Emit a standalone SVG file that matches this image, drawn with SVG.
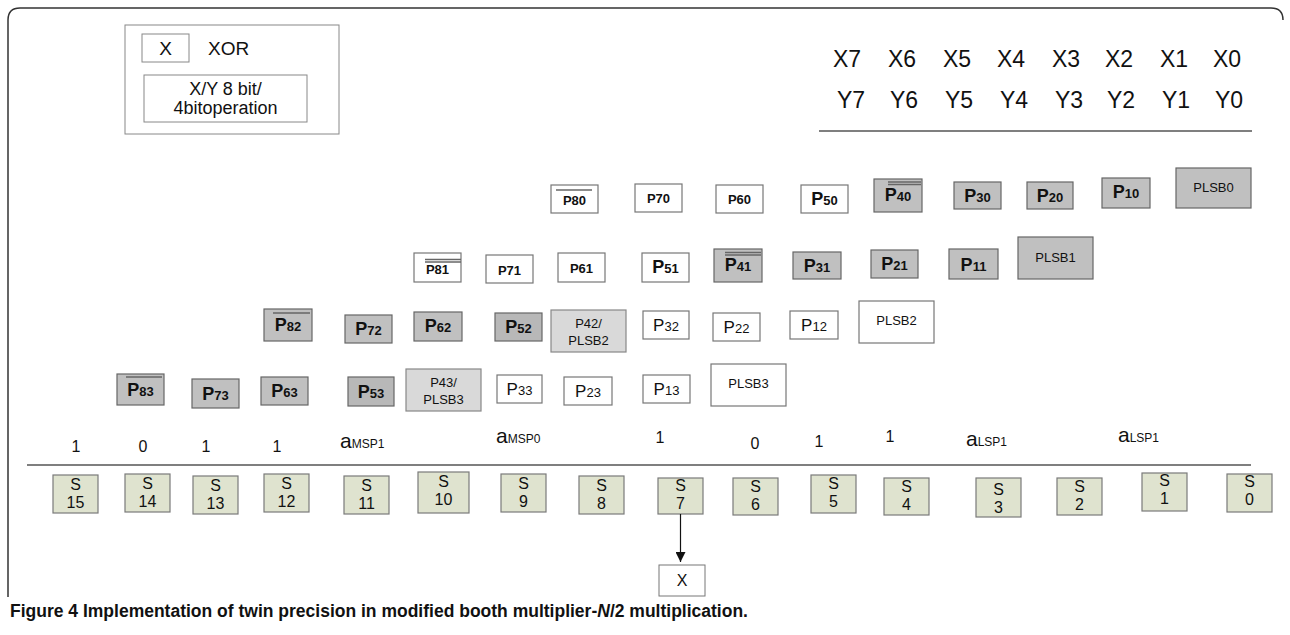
<svg xmlns="http://www.w3.org/2000/svg" width="1290" height="635" viewBox="0 0 1290 635">
<style>
  text{font-family:"Liberation Sans",Arial,sans-serif;fill:#111}
  .frame{fill:none;stroke:#333;stroke-width:1.5}
  .lg{fill:#fff;stroke:#888;stroke-width:1}
  .w{fill:#fff;stroke:#777;stroke-width:1.2}
  .g{fill:#c0c0c0;stroke:#666;stroke-width:1.2}
  .gd{fill:#b8b8b8;stroke:#666;stroke-width:1.2}
  .gl{fill:#d9d9d9;stroke:#888;stroke-width:1.2}
  .s{fill:#dfe3cf;stroke:#7a7a7a;stroke-width:1.2}
  .ov{stroke:#666;stroke-width:1.3}
  .rule{stroke:#555;stroke-width:1.3}
  .t18{font-size:18px}
  .t19{font-size:19px}
  .xy{font-size:23px}
  .sb{font-size:13px;font-weight:bold;text-anchor:middle}
  .big{text-anchor:middle;font-weight:bold}
  .big .p{font-size:18px}
  .big .d{font-size:13px}
  .reg{text-anchor:middle}
  .reg .p{font-size:17px}
  .reg .d{font-size:13px}
  .pl{font-size:13px;text-anchor:middle}
  .st{font-size:16px;text-anchor:middle}
  .bit{font-size:16px;text-anchor:middle}
  .a{font-size:21px}
  .sub{font-size:12px}
  .cap{font-size:17.5px;font-weight:bold}
</style>
<defs>
  <marker id="arrow" viewBox="0 0 10 10" refX="10" refY="5" markerWidth="10" markerHeight="10" markerUnits="userSpaceOnUse" orient="auto">
    <path d="M0,0 L10,5 L0,10 z" fill="#111"/>
  </marker>
</defs>

<!-- outer frame -->
<path class="frame" d="M8,597 V20 Q8,8 20,8 H1271 Q1283,8 1283,20"/>

<!-- legend -->
<g id="legend">
  <rect class="lg" x="125" y="25" width="214" height="109"/>
  <rect class="lg" x="142" y="34" width="47" height="28"/>
  <text class="t19" x="165.5" y="55" text-anchor="middle">X</text>
  <text class="t19" x="208" y="55">XOR</text>
  <rect class="lg" x="144" y="75" width="163" height="47"/>
  <text class="t18" x="225.5" y="95" text-anchor="middle">X/Y 8 bit/</text>
  <text class="t18" x="225.5" y="114" text-anchor="middle">4bitoperation</text>
</g>

<!-- operand bits -->
<g id="operands" class="xy">
  <text x="833" y="67">X7</text><text x="888" y="67">X6</text><text x="943" y="67">X5</text><text x="997" y="67">X4</text>
  <text x="1052" y="67">X3</text><text x="1105" y="67">X2</text><text x="1160" y="67">X1</text><text x="1213" y="67">X0</text>
  <text x="837" y="108">Y7</text><text x="890" y="108">Y6</text><text x="945" y="108">Y5</text><text x="1000" y="108">Y4</text>
  <text x="1055" y="108">Y3</text><text x="1107" y="108">Y2</text><text x="1162" y="108">Y1</text><text x="1215" y="108">Y0</text>
</g>
<line class="rule" x1="819" y1="131" x2="1252" y2="131"/>

<!-- partial product row 0 -->
<g id="P80"><rect class="w" x="551" y="185" width="47" height="28"/><line class="ov" x1="556" y1="190" x2="592" y2="190"/><text class="sb" x="574.5" y="205">P80</text></g>
<g id="P70"><rect class="w" x="635" y="184" width="47" height="28"/><text class="sb" x="658.5" y="203">P70</text></g>
<g id="P60"><rect class="w" x="716" y="185" width="47" height="28"/><text class="sb" x="739.5" y="204">P60</text></g>
<g id="P50"><rect class="w" x="801" y="185" width="47" height="28"/><text class="big" x="824.5" y="205"><tspan class="p">P</tspan><tspan class="d">50</tspan></text></g>
<g id="P40"><rect class="g" x="874" y="179" width="48" height="33"/><line class="ov" x1="888" y1="182" x2="921" y2="182"/><line class="ov" x1="888" y1="184.5" x2="921" y2="184.5"/><text class="big" x="898" y="201"><tspan class="p">P</tspan><tspan class="d">40</tspan></text></g>
<g id="P30"><rect class="g" x="954" y="182" width="47" height="27"/><text class="big" x="977.5" y="202"><tspan class="p">P</tspan><tspan class="d">30</tspan></text></g>
<g id="P20"><rect class="g" x="1027" y="182" width="46" height="27"/><text class="big" x="1050" y="202"><tspan class="p">P</tspan><tspan class="d">20</tspan></text></g>
<g id="P10"><rect class="g" x="1102" y="178" width="48" height="30"/><text class="big" x="1126" y="198"><tspan class="p">P</tspan><tspan class="d">10</tspan></text></g>
<g id="PLSB0"><rect class="g" x="1176" y="168" width="75" height="40"/><text class="pl" x="1213.5" y="192">PLSB0</text></g>

<!-- partial product row 1 -->
<g id="P81"><rect class="w" x="414" y="253" width="47" height="29"/><line class="ov" x1="425" y1="259.5" x2="461" y2="259.5"/><line class="ov" x1="425" y1="262" x2="461" y2="262"/><text class="sb" x="437.5" y="274">P81</text></g>
<g id="P71"><rect class="w" x="486" y="255" width="47" height="28"/><text class="sb" x="509.5" y="275">P71</text></g>
<g id="P61"><rect class="w" x="558" y="253" width="47" height="29"/><text class="sb" x="581.5" y="273">P61</text></g>
<g id="P51"><rect class="w" x="642" y="253" width="47" height="29"/><text class="big" x="665.5" y="273"><tspan class="p">P</tspan><tspan class="d">51</tspan></text></g>
<g id="P41"><rect class="g" x="714" y="249" width="48" height="33"/><line class="ov" x1="725" y1="252.5" x2="761" y2="252.5"/><line class="ov" x1="725" y1="255" x2="761" y2="255"/><text class="big" x="738" y="271"><tspan class="p">P</tspan><tspan class="d">41</tspan></text></g>
<g id="P31"><rect class="g" x="793" y="252" width="48" height="27"/><text class="big" x="817" y="272"><tspan class="p">P</tspan><tspan class="d">31</tspan></text></g>
<g id="P21"><rect class="g" x="871" y="250" width="47" height="28"/><text class="big" x="894.5" y="270"><tspan class="p">P</tspan><tspan class="d">21</tspan></text></g>
<g id="P11"><rect class="g" x="949" y="249" width="49" height="30"/><text class="big" x="973.5" y="271"><tspan class="p">P</tspan><tspan class="d">11</tspan></text></g>
<g id="PLSB1"><rect class="g" x="1018" y="237" width="75" height="42"/><text class="pl" x="1055.5" y="262">PLSB1</text></g>

<!-- partial product row 2 -->
<g id="P82"><rect class="g" x="264" y="309" width="48" height="32"/><line class="ov" x1="273" y1="313" x2="310" y2="313"/><text class="big" x="288" y="331"><tspan class="p">P</tspan><tspan class="d">82</tspan></text></g>
<g id="P72"><rect class="g" x="345" y="315" width="47" height="28"/><text class="big" x="368.5" y="335"><tspan class="p">P</tspan><tspan class="d">72</tspan></text></g>
<g id="P62"><rect class="g" x="414" y="312" width="48" height="29"/><text class="big" x="438" y="332"><tspan class="p">P</tspan><tspan class="d">62</tspan></text></g>
<g id="P52"><rect class="gd" x="495" y="313" width="47" height="28"/><text class="big" x="518.5" y="333"><tspan class="p">P</tspan><tspan class="d">52</tspan></text></g>
<g id="P42"><rect class="gl" x="551" y="310" width="75" height="42"/><text class="pl" x="588.5" y="328">P42/</text><text class="pl" x="588.5" y="345">PLSB2</text></g>
<g id="P32"><rect class="w" x="643" y="311" width="46" height="28"/><text class="reg" x="666" y="331"><tspan class="p">P</tspan><tspan class="d">32</tspan></text></g>
<g id="P22"><rect class="w" x="713" y="313" width="47" height="28"/><text class="reg" x="736.5" y="333"><tspan class="p">P</tspan><tspan class="d">22</tspan></text></g>
<g id="P12"><rect class="w" x="790" y="311" width="48" height="28"/><text class="reg" x="814" y="331"><tspan class="p">P</tspan><tspan class="d">12</tspan></text></g>
<g id="PLSB2"><rect class="w" x="859" y="301" width="75" height="42"/><text class="pl" x="896.5" y="325">PLSB2</text></g>

<!-- partial product row 3 -->
<g id="P83"><rect class="g" x="117" y="374" width="47" height="31"/><line class="ov" x1="126" y1="377" x2="162" y2="377"/><text class="big" x="140.5" y="396"><tspan class="p">P</tspan><tspan class="d">83</tspan></text></g>
<g id="P73"><rect class="g" x="192" y="379" width="47" height="29"/><text class="big" x="215.5" y="400"><tspan class="p">P</tspan><tspan class="d">73</tspan></text></g>
<g id="P63"><rect class="g" x="261" y="377" width="47" height="28"/><text class="big" x="284.5" y="397"><tspan class="p">P</tspan><tspan class="d">63</tspan></text></g>
<g id="P53"><rect class="gd" x="348" y="377" width="46" height="29"/><text class="big" x="371" y="398"><tspan class="p">P</tspan><tspan class="d">53</tspan></text></g>
<g id="P43"><rect class="gl" x="406" y="369" width="75" height="42"/><text class="pl" x="443.5" y="387">P43/</text><text class="pl" x="443.5" y="404">PLSB3</text></g>
<g id="P33"><rect class="w" x="497" y="375" width="45" height="28"/><text class="reg" x="519.5" y="395"><tspan class="p">P</tspan><tspan class="d">33</tspan></text></g>
<g id="P23"><rect class="w" x="564" y="377" width="48" height="28"/><text class="reg" x="588" y="397"><tspan class="p">P</tspan><tspan class="d">23</tspan></text></g>
<g id="P13"><rect class="w" x="643" y="375" width="47" height="28"/><text class="reg" x="666.5" y="395"><tspan class="p">P</tspan><tspan class="d">13</tspan></text></g>
<g id="PLSB3"><rect class="w" x="711" y="364" width="75" height="42"/><text class="pl" x="748.5" y="388">PLSB3</text></g>

<!-- correction bits -->
<g id="bits">
  <text class="bit" x="76" y="452">1</text>
  <text class="bit" x="143" y="452">0</text>
  <text class="bit" x="206" y="452">1</text>
  <text class="bit" x="277" y="452">1</text>
  <text x="340" y="448"><tspan class="a">a</tspan><tspan class="sub">MSP1</tspan></text>
  <text x="496" y="443"><tspan class="a">a</tspan><tspan class="sub">MSP0</tspan></text>
  <text class="bit" x="660" y="443">1</text>
  <text class="bit" x="755" y="449">0</text>
  <text class="bit" x="819" y="447">1</text>
  <text class="bit" x="890" y="442">1</text>
  <text x="966" y="446"><tspan class="a">a</tspan><tspan class="sub">LSP1</tspan></text>
  <text x="1118" y="442"><tspan class="a">a</tspan><tspan class="sub">LSP1</tspan></text>
</g>
<line class="rule" x1="27" y1="465" x2="1251" y2="465"/>

<!-- sum bits -->
<g id="S15"><rect class="s" x="53" y="475" width="45" height="38"/><text class="st" x="75.5" y="490">S</text><text class="st" x="75.5" y="508">15</text></g>
<g id="S14"><rect class="s" x="125" y="474" width="45" height="38"/><text class="st" x="147.5" y="489">S</text><text class="st" x="147.5" y="507">14</text></g>
<g id="S13"><rect class="s" x="193" y="476" width="45" height="38"/><text class="st" x="215.5" y="491">S</text><text class="st" x="215.5" y="509">13</text></g>
<g id="S12"><rect class="s" x="264" y="474" width="45" height="38"/><text class="st" x="286.5" y="489">S</text><text class="st" x="286.5" y="507">12</text></g>
<g id="S11"><rect class="s" x="344" y="476" width="45" height="38"/><text class="st" x="366.5" y="491">S</text><text class="st" x="366.5" y="509">11</text></g>
<g id="S10"><rect class="s" x="418" y="472" width="51" height="41"/><text class="st" x="443.5" y="487">S</text><text class="st" x="443.5" y="505">10</text></g>
<g id="S9"><rect class="s" x="501" y="474" width="45" height="38"/><text class="st" x="523.5" y="489">S</text><text class="st" x="523.5" y="507">9</text></g>
<g id="S8"><rect class="s" x="579" y="476" width="45" height="38"/><text class="st" x="601.5" y="491">S</text><text class="st" x="601.5" y="509">8</text></g>
<g id="S7"><rect class="s" x="658" y="478" width="45" height="36"/><text class="st" x="680.5" y="491">S</text><text class="st" x="680.5" y="509">7</text></g>
<g id="S6"><rect class="s" x="733" y="478" width="45" height="37"/><text class="st" x="755.5" y="492">S</text><text class="st" x="755.5" y="510">6</text></g>
<g id="S5"><rect class="s" x="811" y="475" width="45" height="38"/><text class="st" x="833.5" y="489">S</text><text class="st" x="833.5" y="507">5</text></g>
<g id="S4"><rect class="s" x="884" y="478" width="45" height="37"/><text class="st" x="906.5" y="492">S</text><text class="st" x="906.5" y="510">4</text></g>
<g id="S3"><rect class="s" x="976" y="478" width="45" height="39"/><text class="st" x="998.5" y="495">S</text><text class="st" x="998.5" y="513">3</text></g>
<g id="S2"><rect class="s" x="1057" y="478" width="45" height="37"/><text class="st" x="1079.5" y="492">S</text><text class="st" x="1079.5" y="510">2</text></g>
<g id="S1"><rect class="s" x="1142" y="473" width="45" height="38"/><text class="st" x="1164.5" y="486">S</text><text class="st" x="1164.5" y="504">1</text></g>
<g id="S0"><rect class="s" x="1227" y="474" width="45" height="38"/><text class="st" x="1249.5" y="487">S</text><text class="st" x="1249.5" y="505">0</text></g>

<!-- output XOR -->
<g id="XOR"><rect class="lg" x="659" y="565" width="46" height="31" style="stroke:#777"/><text class="st" x="682" y="586">X</text></g>

<g id="connectors">
  <line x1="680.5" y1="514" x2="680.5" y2="562" stroke="#111" stroke-width="1.2" marker-end="url(#arrow)"/>
</g>

<!-- caption -->
<text class="cap" x="10" y="617">Figure 4 Implementation of twin precision in modified booth multiplier-<tspan font-style="italic">N</tspan>/2 multiplication.</text>
</svg>
